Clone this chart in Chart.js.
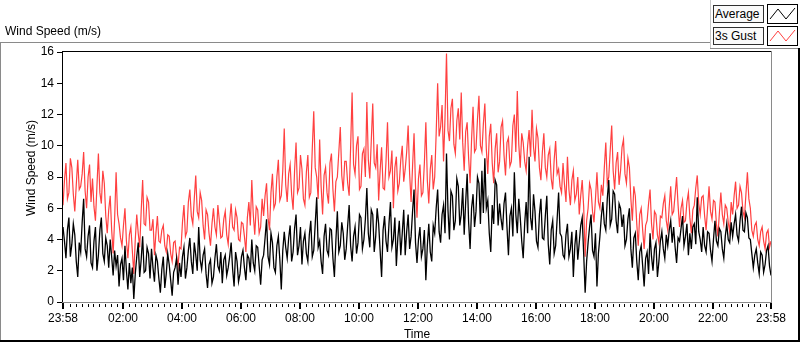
<!DOCTYPE html>
<html>
<head>
<meta charset="utf-8">
<script src="https://cdn.jsdelivr.net/npm/chart.js@4.4.0/dist/chart.umd.min.js"></script>
<style>
  body { margin: 0; background: #fff; font-family: "Liberation Sans", Arial, sans-serif; }
  #wrap { position: relative; width: 800px; height: 342px; overflow: hidden; }
  #chart { position: absolute; left: 0; top: 0; }
  .ln { position: absolute; }
  .title { position: absolute; left: 5px; top: 24px; font-size: 12px; color: #000; }
  .lgText { position: absolute; left: 713px; width: 48px; height: 16px; border: 1px solid #303030;
            background: #fafafa; font-size: 12px; line-height: 16px; padding-left: 1px; color: #000; }
  .lgIcon { position: absolute; left: 767px; width: 29px; height: 18px; border: 1px solid #000; background: #fff; }
</style>
</head>
<body>
<div id="wrap">
  <canvas id="chart" width="800" height="342"></canvas>
  <div class="title">Wind Speed (m/s)</div>
  <div class="ln" style="left:0;top:42px;width:711px;height:1px;background:#8a8a8a"></div>
  <div class="ln" style="left:710px;top:0;width:1px;height:48px;background:#c8c8c8"></div>
  <div class="ln" style="left:710px;top:48px;width:90px;height:1px;background:#8a8a8a"></div>
  <div class="ln" style="left:0;top:42px;width:1px;height:299px;background:#8a8a8a"></div>
  <div class="ln" style="left:0;top:340px;width:800px;height:2px;background:#000"></div>
  <div class="ln" style="left:798px;top:48px;width:2px;height:293px;background:#000"></div>
  <div class="lgText" style="top:5px">Average</div>
  <div class="lgIcon" style="top:4px"><svg width="29" height="18"><polyline points="2,14 10,4 18,14 27,3" fill="none" stroke="#000" stroke-width="1"/></svg></div>
  <div class="lgText" style="top:27px">3s Gust</div>
  <div class="lgIcon" style="top:26px"><svg width="29" height="18"><polyline points="2,14 10,4 18,14 27,3" fill="none" stroke="#ff4040" stroke-width="1"/></svg></div>
</div>
<script>
// one sample every 3 minutes, starting 23:58
const sampleStep = 3;

const avgSpeed = [
  4.8, 3.9, 2.8, 4.6, 5.4, 2.9, 3.7, 5.0, 4.3, 2.6, 1.6, 3.8,
  3.2, 5.1, 6.6, 3.4, 2.9, 4.2, 4.9, 2.5,
  2.2, 3.9, 4.8, 2.0, 3.0, 4.6, 5.4, 3.1, 2.6, 4.1,
  3.6, 2.2, 4.0, 2.9, 1.7, 3.3, 2.3, 3.0, 1.0, 2.4,
  2.8, 1.4, 3.6, 2.0, 0.8, 2.5, 1.2, 2.2, 0.2, 1.8,
  2.9, 3.8, 1.6, 2.7, 4.2, 1.9, 2.0, 3.5, 3.1, 1.5,
  3.4, 2.2, 1.3, 3.0, 2.6, 1.5, 0.6, 2.1, 2.9, 0.9, 1.8, 3.1, 2.4, 1.4, 0.4, 1.9, 2.2, 2.8, 1.1, 2.5,
  1.6, 2.9, 3.5, 1.5, 2.2, 3.3, 4.1, 2.6, 1.8, 3.8, 3.0, 2.0, 4.8, 2.7,
  2.1, 3.0, 3.4, 1.8, 0.9, 2.4, 2.7, 1.2, 1.6, 2.8, 3.7, 2.3, 2.0, 3.2,
  1.2, 2.7, 3.0, 1.7, 2.2, 2.9, 3.8, 2.1, 1.0, 3.2, 2.6, 1.3, 1.8, 2.9,
  3.3, 2.2, 1.4, 3.0, 2.8, 1.9, 4.0, 2.5, 2.0, 3.6, 3.5, 2.3, 1.1, 2.7,
  3.0, 4.1, 5.3, 2.9, 2.4, 4.4, 3.8, 2.2, 1.9, 3.6, 4.2, 2.7, 0.8, 3.3,
  4.5, 3.5, 2.8, 4.1, 4.9, 2.6, 3.2, 4.7, 5.6, 3.0, 3.6, 4.8, 2.4, 3.9,
  4.4, 3.1, 2.6, 4.3, 5.2, 2.9, 3.3, 5.0, 6.7, 3.5, 3.9, 2.6, 1.8, 4.2,
  5.0, 3.3, 3.0, 4.7, 4.6, 2.8, 1.6, 3.9, 5.8, 3.2, 3.6, 5.1, 4.4, 2.7,
  3.4, 4.9, 6.2, 3.6, 2.6, 4.2, 4.8, 3.1, 3.8, 5.6, 5.4, 3.4,
  4.0, 5.3, 7.3, 4.4, 3.5, 5.9, 5.6, 3.2, 4.2, 6.0, 5.0, 3.3, 1.6, 4.6,
  5.5, 3.9, 3.2, 5.0, 6.4, 3.5, 4.0, 5.4, 2.3, 4.1, 5.2, 3.0, 4.4, 5.9,
  3.0, 4.5, 5.6, 3.4, 4.2, 5.8, 7.2, 3.8, 2.5, 4.0, 4.8, 2.9,
  3.4, 4.6, 1.4, 3.6, 5.0, 3.2, 2.6, 4.9, 4.4, 6.0, 7.2, 4.5,
  3.8, 5.6, 6.2, 4.4, 9.5, 5.9, 4.0, 7.1, 6.8, 4.6, 5.2, 7.9, 7.4, 4.9,
  5.6, 7.3, 4.3, 6.4, 8.2, 5.1, 3.4, 6.0, 6.9, 4.8, 5.8, 8.0, 7.6, 5.0,
  8.4, 5.7, 9.2, 6.0, 6.5, 4.4, 3.2, 6.2, 5.0, 7.8, 7.5, 4.9, 6.3, 5.3,
  4.6, 6.3, 7.0, 4.8, 3.0, 5.5, 6.0, 4.2, 8.3, 5.6, 4.4, 6.6, 5.4, 3.9,
  2.8, 5.0, 6.4, 4.4, 9.3, 5.4, 4.6, 6.9, 5.8, 3.9, 3.5, 5.6, 6.6, 4.1,
  4.0, 5.5, 6.8, 3.7, 2.4, 4.6, 5.2, 3.1, 3.6, 5.3, 7.0, 4.4, 4.2, 3.0,
  2.8, 4.3, 5.0, 2.9, 3.4, 4.5, 1.6, 3.6, 4.6, 2.7, 3.8, 4.9, 5.4, 3.1,
  0.6, 2.6, 3.8, 4.8, 5.6, 3.3, 2.9, 4.4, 1.0, 3.1, 4.2, 5.5,
  6.4, 5.0, 4.6, 6.6, 7.8, 4.9, 5.3, 7.1, 6.9, 5.2, 4.4, 6.3, 6.0, 4.8,
  5.6, 3.6, 4.0, 5.3, 6.0, 3.4, 2.2, 4.1, 4.4, 2.6, 1.4, 3.2,
  3.6, 2.3, 1.0, 2.8, 3.2, 1.8, 4.4, 2.9, 2.0, 3.4, 3.8, 1.6, 2.6, 3.9,
  4.5, 3.4, 2.8, 4.3, 3.6, 4.6, 5.2, 3.8, 4.8, 3.5, 2.5, 4.1, 3.9, 4.7,
  5.5, 3.6, 4.2, 5.0, 3.0, 4.4, 3.4, 4.8, 5.0, 3.7, 6.7, 4.5, 4.0, 3.2,
  4.8, 3.6, 3.2, 4.5, 4.4, 3.3, 2.6, 4.0, 5.2, 3.9, 3.6, 4.7, 4.5, 3.4, 2.8, 4.2, 5.0, 4.0, 3.8, 5.1,
  4.2, 5.0, 5.6, 4.3, 3.9, 5.2, 6.1, 4.6, 4.5, 5.7, 5.4, 4.1, 4.0, 3.1,
  2.2, 3.0, 3.4, 2.5, 1.8, 3.2, 3.0, 1.9, 2.4, 3.3, 3.6, 2.3, 1.7
];

const gustSpeed = [
  6.2, 7.8, 8.9, 6.6, 7.0, 9.2, 8.6, 6.9, 5.8, 7.5, 9.1, 7.2,
  7.4, 8.2, 9.6, 7.1, 6.0, 8.0, 8.8, 6.4,
  7.9, 6.1, 5.2, 7.4, 9.5, 7.0, 6.3, 8.4, 7.6, 5.5,
  4.4, 5.9, 6.8, 4.6, 3.1, 5.3, 8.3, 5.6, 5.0, 4.1,
  3.6, 4.9, 6.0, 3.9, 2.8, 4.3, 4.8, 3.3, 1.8, 4.0,
  5.6, 4.4, 3.5, 5.8, 7.8, 5.0, 4.9, 6.7, 6.4, 4.6,
  4.6, 5.3, 3.0, 4.4, 5.5, 3.9, 3.8, 4.6, 4.9, 3.6, 3.2, 4.3, 4.2, 3.1, 2.6, 3.8, 3.9, 2.9, 2.3, 3.5,
  3.4, 5.1, 6.2, 4.2, 4.5, 6.4, 7.2, 5.5, 5.0, 6.6, 8.1, 5.8, 5.4, 7.0,
  6.5, 4.9, 4.0, 5.9, 5.6, 4.4, 3.6, 5.0, 6.0, 4.8, 4.3, 6.2, 5.2, 4.1,
  4.2, 5.3, 5.8, 4.3, 3.7, 5.2, 6.3, 4.8, 4.6, 5.9, 5.4, 4.0, 3.9, 5.1,
  5.0, 4.2, 3.2, 5.4, 6.4, 4.9, 7.8, 5.6, 4.3, 6.1, 5.9, 4.4, 4.8, 6.6,
  5.5, 6.8, 7.6, 5.4, 4.6, 7.0, 8.2, 6.0, 6.3, 8.0, 9.1, 6.5, 6.8, 8.4,
  11.1, 7.5, 6.4, 8.2, 8.8, 6.9, 5.9, 8.4, 10.2, 7.0, 7.3, 9.4, 8.5, 6.6,
  6.2, 8.3, 9.4, 6.7, 7.0, 9.8, 12.2, 8.6, 8.0, 6.6, 10.4, 7.4, 5.6, 8.1,
  8.6, 7.0, 6.3, 8.9, 9.5, 7.2, 5.8, 7.7, 8.0, 9.6, 11.2, 8.1, 7.1, 9.0,
  9.0, 7.6, 6.8, 9.9, 13.4, 8.8, 8.2, 10.0, 10.6, 7.2, 7.4, 9.5,
  9.8, 8.0, 12.8, 9.1, 7.9, 10.3, 12.7, 8.9, 8.6, 10.1, 6.5, 8.4, 9.9, 7.3,
  7.2, 9.0, 11.5, 8.0, 8.4, 9.7, 6.0, 8.6, 9.3, 7.1, 7.6, 9.1, 10.0, 7.7,
  8.5, 9.6, 11.3, 8.2, 6.4, 8.7, 10.8, 7.4, 5.4, 7.9, 8.8, 6.8,
  7.0, 8.9, 11.5, 7.8, 6.3, 8.5, 9.4, 7.2, 8.0, 10.8, 14.0, 10.6,
  11.2, 12.6, 9.0, 11.8, 15.9, 11.0, 10.3, 12.4, 13.0, 10.1, 9.5, 11.6, 12.4, 10.4,
  13.4, 10.2, 8.4, 10.9, 11.5, 9.2, 7.6, 10.4, 12.5, 9.6, 9.8, 11.7, 13.2, 10.0,
  9.6, 11.4, 12.7, 9.8, 8.2, 10.6, 11.4, 8.9, 7.6, 9.8, 10.8, 8.3, 9.0, 11.2,
  11.6, 9.4, 8.1, 10.2, 10.5, 8.7, 9.0, 11.3, 12.0, 9.6, 13.5, 10.1, 8.6, 10.8,
  10.2, 9.0, 8.4, 10.0, 11.0, 9.3, 12.3, 9.9, 9.0, 11.1, 10.5, 8.6, 7.8, 9.6,
  10.8, 8.6, 8.0, 9.4, 9.8, 7.9, 7.2, 9.1, 10.3, 8.2, 8.5, 7.4, 7.0, 8.9,
  7.5, 6.4, 9.3, 7.2, 6.2, 7.8, 8.4, 6.5, 6.9, 8.0, 5.6, 6.8, 7.8, 6.1,
  2.9, 5.2, 6.0, 7.6, 7.2, 5.8, 5.1, 6.6, 8.3, 6.4, 6.0, 7.5,
  6.8, 8.6, 10.2, 7.6, 8.0, 9.7, 11.3, 8.4, 7.2, 8.9, 9.6, 7.5, 8.4, 9.9,
  10.4, 8.2, 7.6, 9.2, 8.6, 6.6, 5.2, 7.4, 6.8, 5.0, 3.6, 5.6,
  6.0, 4.6, 3.4, 4.9, 5.2, 6.3, 7.2, 5.0, 4.0, 5.8, 5.6, 4.3, 3.8, 5.5,
  5.4, 6.3, 6.8, 5.2, 4.6, 6.1, 7.4, 5.6, 5.8, 6.9, 8.0, 6.2, 4.8, 6.0,
  6.5, 5.1, 5.2, 6.4, 7.0, 5.4, 4.4, 5.9, 6.2, 7.3, 8.1, 6.3, 5.6, 6.7,
  6.8, 5.5, 4.6, 6.0, 7.4, 5.8, 5.3, 6.5, 6.4, 5.0, 4.2, 5.7, 7.0, 5.6, 5.0, 6.2, 6.0, 5.1, 4.5, 6.4,
  5.6, 6.8, 7.7, 6.0, 6.2, 7.4, 7.0, 5.8, 5.4, 6.9, 8.3, 6.6, 6.0, 4.6,
  4.2, 4.9, 5.1, 4.0, 3.6, 4.5, 4.8, 3.9, 3.4, 4.4, 4.6, 3.5, 3.9
];

// x axis: minutes since 23:58
const majorMinutes = [0, 122, 242, 362, 482, 602, 722, 842, 962, 1082, 1202, 1322, 1440];
const timeLabels = ['23:58', '02:00', '04:00', '06:00', '08:00', '10:00', '12:00',
                    '14:00', '16:00', '18:00', '20:00', '22:00', '23:58'];

const minorMinutes = [];
for (let m = 14; m < 1440; m += 12) {
  if (!majorMinutes.includes(m)) minorMinutes.push(m);
}

const FONT = { family: 'Liberation Sans', size: 12 };

const frame = {
  id: 'frame',
  afterDraw(chart) {
    const c = chart.ctx;
    const a = chart.chartArea;
    const xs = chart.scales.x;
    c.save();
    c.fillStyle = '#000';
    c.fillRect(a.left - 1, a.top - 1, a.right - a.left + 1, 1);
    c.fillRect(a.left - 1, a.top - 1, 1, a.bottom - a.top + 1);
    c.fillStyle = '#8a8a8a';
    c.fillRect(a.right, a.top - 1, 1, a.bottom - a.top + 2);
    c.fillRect(a.left - 1, a.bottom, a.right - a.left + 2, 1);
    c.fillStyle = '#000';
    majorMinutes.forEach(m => {
      const px = Math.round(xs.getPixelForValue(m));
      c.fillRect(px - 1, a.bottom + 1, 2, 6);
    });
    minorMinutes.forEach(m => {
      const px = Math.round(xs.getPixelForValue(m));
      c.fillRect(px, a.bottom + 2, 1, 3);
    });
    // y axis title
    c.translate(32, 168);
    c.rotate(-Math.PI / 2);
    c.font = '12px "Liberation Sans"';
    c.textAlign = 'center';
    c.textBaseline = 'middle';
    c.fillStyle = '#000';
    c.fillText('Wind Speed (m/s)', 0, 0);
    c.restore();
  }
};

new Chart(document.getElementById('chart'), {
  type: 'line',
  data: {
    datasets: [{
      label: 'Average',
      data: avgSpeed.map((v, i) => ({ x: i * sampleStep, y: v })),
      borderColor: '#000',
      borderWidth: 1.3,
      pointRadius: 0,
      tension: 0
    }, {
      label: '3s Gust',
      data: gustSpeed.map((v, i) => ({ x: i * sampleStep, y: v })),
      borderColor: '#ff4040',
      borderWidth: 1.2,
      pointRadius: 0,
      tension: 0
    }]
  },
  options: {
    responsive: false,
    animation: false,
    devicePixelRatio: 1,
    layout: { padding: { left: 0, top: 52, right: 29, bottom: 0 } },
    plugins: { legend: { display: false }, tooltip: { enabled: false } },
    scales: {
      x: {
        type: 'linear',
        min: 0,
        max: 1440,
        afterBuildTicks: s => { s.ticks = majorMinutes.map(v => ({ value: v })); },
        afterFit: s => { s.height = 40; },
        grid: { display: false },
        border: { display: false },
        ticks: {
          autoSkip: false,
          maxRotation: 0,
          padding: 1,
          color: '#000',
          font: FONT,
          callback: v => timeLabels[majorMinutes.indexOf(v)]
        },
        title: { display: true, text: 'Time', color: '#000', font: FONT, padding: { top: 0, bottom: 0 } }
      },
      y: {
        min: 0,
        max: 16,
        afterFit: s => { s.width = 63; },
        ticks: { stepSize: 2, color: '#000', font: FONT, padding: 3 },
        grid: { drawOnChartArea: false, tickLength: 6, tickColor: '#000' },
        border: { display: false }
      }
    }
  },
  plugins: [frame]
});
</script>
</body>
</html>
